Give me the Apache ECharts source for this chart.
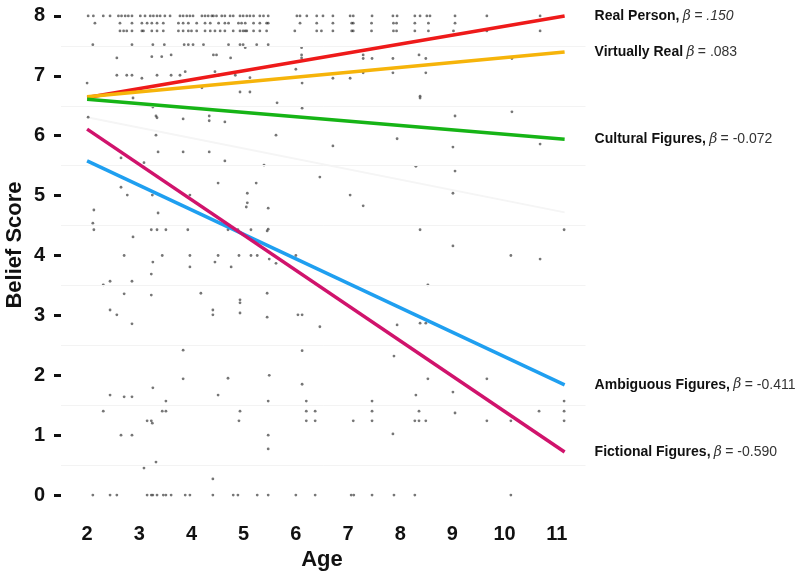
<!DOCTYPE html>
<html><head><meta charset="utf-8">
<script src="https://cdn.jsdelivr.net/npm/echarts@6/dist/echarts.min.js"></script>
<style>html,body{margin:0;padding:0;background:#fff}#c{width:800px;height:573px}</style>
</head><body><div id="c"></div>
<script>
// ---- data ----
const xTicks = [2,3,4,5,6,7,8,9,10,11];
const yTicks = [0,1,2,3,4,5,6,7,8];
const halfLines = [0.5,1.5,2.5,3.5,4.5,5.5,6.5,7.5];
const lineAges = [2, 11.15];
const realPerson = [6.64, 8.0];
const virtuallyReal = [6.65, 7.40];
const culturalFigures = [6.61, 5.94];
const ambiguousFigures = [5.58, 1.84];
const fictionalFigures = [6.11, 0.72];
const overallFaint = [6.31, 4.72];
const seriesLabels = [
  ['Real Person,', '.150', true],
  ['Virtually Real', '.083', false],
  ['Cultural Figures,', '-0.072', false],
  ['Ambiguous Figures,', '-0.411', false],
  ['Fictional Figures,', '-0.590', false]
];
const row8 = [2.02,2.12,2.31,2.44,2.60,2.66,2.73,2.79,2.86,3.02,3.11,3.21,3.27,3.34,3.40,3.49,3.59,3.78,3.84,3.91,3.97,4.03,4.20,4.26,4.32,4.39,4.42,4.48,4.58,4.64,4.74,4.80,4.93,4.99,5.06,5.12,5.19,5.31,5.38,5.47,6.02,6.08,6.21,6.40,6.52,6.71,7.04,7.10,7.46,7.86,7.94,8.28,8.38,8.51,8.57,9.05,9.66,10.68];
const row788 = [2.15,2.63,2.86,3.05,3.15,3.24,3.34,3.46,3.75,3.84,3.94,4.10,4.26,4.36,4.52,4.64,4.71,4.90,4.96,5.03,5.19,5.31,5.44,5.47,6.08,6.40,6.71,7.07,7.10,7.45,7.87,7.93,8.28,8.54,9.05];
const row775 = [2.63,2.70,2.76,2.86,3.05,3.08,3.24,3.34,3.46,3.75,3.84,3.94,4.00,4.10,4.26,4.36,4.45,4.55,4.64,4.80,4.93,4.99,5.03,5.06,5.19,5.31,5.44,5.98,6.40,6.49,6.71,7.07,7.10,7.45,7.87,7.93,8.28,8.54,9.02,9.66,10.68];
const row0 = [2.11,2.44,2.57,3.15,3.23,3.26,3.34,3.46,3.51,3.61,3.88,3.97,4.41,4.80,4.89,5.26,5.47,6.00,6.37,7.06,7.11,7.46,7.88,8.28,10.12];
const otherPoints = [
 [2.11,7.52],[2.86,7.52],[3.26,7.52],[3.48,7.52],[3.86,7.52],[3.94,7.52],[4.03,7.52],[4.23,7.52],[4.71,7.52],[4.93,7.52],[4.99,7.52],[5.03,7.47],[5.25,7.52],[5.47,7.52],[6.11,7.47],
 [2.57,7.30],[3.24,7.32],[3.43,7.32],[3.61,7.35],[4.42,7.35],[4.48,7.35],[4.75,7.30],[6.11,7.35],[6.11,7.30],
 [7.29,7.35],[7.29,7.29],[7.46,7.29],[7.86,7.29],[8.36,7.35],[8.49,7.29],[10.14,7.29],
 [6.00,7.11],[2.57,7.01],[2.76,7.01],[2.86,7.01],[3.05,6.96],[3.34,7.01],[3.61,7.01],[3.78,7.01],[3.88,7.07],[4.45,7.07],[4.52,7.01],[4.84,7.01],[5.12,6.97],
 [7.29,7.05],[7.86,7.05],[8.49,7.05],[6.71,6.96],[7.04,6.96],
 [2.00,6.88],[6.12,6.88],[4.20,6.80],[4.93,6.73],[5.12,6.73],[2.88,6.63],[5.64,6.55],[6.12,6.46],[8.38,6.66],[8.38,6.63],[10.14,6.40],[9.05,6.33],[3.26,6.48],
 [2.02,6.31],[3.32,6.33],[3.34,6.30],[3.84,6.28],[4.34,6.33],[4.34,6.25],[4.64,6.23],[3.32,6.01],[5.62,6.01],
 [3.36,5.73],[3.84,5.73],[4.34,5.73],[2.65,5.63],[3.09,5.55],[4.64,5.58],[5.39,5.51],
 [6.71,5.83],[7.94,5.95],[9.01,5.81],[10.68,5.86],[8.30,5.49],[9.05,5.41],[6.46,5.31],
 [4.51,5.21],[5.24,5.21],[2.65,5.14],[2.77,5.01],[3.25,5.01],[3.97,5.01],[5.07,5.04],[5.07,4.88],[5.05,4.81],[5.47,4.79],[7.04,5.01],[7.29,4.83],[9.01,5.04],
 [2.13,4.76],[2.11,4.54],[2.13,4.43],[3.36,4.71],
 [3.23,4.43],[3.34,4.43],[3.51,4.43],[3.93,4.43],[4.70,4.43],[4.89,4.43],[5.14,4.43],[5.45,4.41],[5.47,4.44],[8.38,4.43],[11.14,4.43],[2.88,4.31],
 [2.71,4.00],[3.44,4.00],[3.97,4.00],[4.51,4.00],[4.91,4.00],[5.14,4.00],[5.26,4.00],[6.00,4.00],[10.12,4.00],[9.01,4.16],[10.68,3.94],
 [3.26,3.89],[4.45,3.89],[5.49,3.94],[5.62,3.87],[3.97,3.81],[4.76,3.81],[3.23,3.69],
 [2.31,3.51],[2.44,3.57],[2.71,3.36],[2.86,3.57],[3.23,3.34],[4.18,3.37],[2.44,3.09],[2.57,3.01],[2.86,2.86],[4.41,3.09],[4.41,3.01],[4.93,3.26],[4.93,3.21],[4.93,3.04],[5.45,3.37],[5.45,2.97],[6.04,3.01],
 [8.53,3.51],[6.12,3.01],[6.46,2.81],[7.94,2.84],[8.38,2.87],[8.49,2.87],[6.12,2.41],[7.88,2.32],
 [3.84,2.42],[5.49,2.00],[4.70,1.95],[3.84,1.94],[8.53,1.94],[9.66,1.94],
 [3.26,1.79],[2.44,1.67],[2.71,1.64],[2.86,1.64],[3.51,1.57],[4.51,1.67],[5.47,1.57],[2.31,1.40],[3.44,1.40],[3.51,1.40],[4.93,1.40],
 [3.15,1.24],[3.23,1.24],[3.25,1.20],[4.91,1.24],[2.65,1.00],[2.86,1.00],[5.47,1.00],[5.47,0.77],[3.32,0.55],[3.09,0.45],[4.41,0.27],
 [6.12,1.85],[6.20,1.57],[6.20,1.40],[6.37,1.40],[6.20,1.24],[6.37,1.24],[7.10,1.24],[7.46,1.57],[7.46,1.40],[7.46,1.24],[7.86,1.02],
 [8.30,1.67],[8.36,1.40],[8.28,1.24],[8.36,1.24],[8.49,1.24],[9.01,1.72],[9.05,1.37],[9.66,1.24],[10.12,1.24],[10.66,1.40],
 [11.14,1.57],[11.14,1.40],[11.14,1.24]
];

// ---- build ----
const points = []
  .concat(row8.map(a => [a, 8.0]))
  .concat(row788.map(a => [a, 7.88]))
  .concat(row775.map(a => [a, 7.75]))
  .concat(row0.map(a => [a, 0]))
  .concat(otherPoints);

const FONT = '"Liberation Sans", Arial, Helvetica, sans-serif';
const lineDefs = [
  [realPerson, '#ee1a1a'],
  [virtuallyReal, '#f6b40a'],
  [culturalFigures, '#16b416'],
  [ambiguousFigures, '#1f9ff0'],
  [fictionalFigures, '#d0136c']
];

function mkLine(vals, color, idx) {
  const lab = seriesLabels[idx];
  return {
    type: 'line', symbol: 'none', z: 5,
    data: lineAges.map((a, i) => [a, vals[i]]),
    lineStyle: { color: color, width: 3.5 },
    endLabel: {
      show: true, distance: 30,
      formatter: '{n|' + lab[0] + '} {b|β} ' + (lab[2] ? '{i|= ' + lab[1] + '}' : '{r|= ' + lab[1] + '}'),
      rich: {
        n: { fontFamily: FONT, fontWeight: 'bold', fontSize: 14, color: '#111' },
        b: { fontFamily: 'DejaVu Serif, serif', fontStyle: 'italic', fontSize: 14, color: '#333' },
        i: { fontFamily: FONT, fontStyle: 'italic', fontSize: 14, color: '#333' },
        r: { fontFamily: FONT, fontSize: 14, color: '#333' }
      }
    }
  };
}

const chart = echarts.init(document.getElementById('c'), null, { renderer: 'canvas' });
chart.setOption({
  animation: false,
  backgroundColor: '#fff',
  grid: { left: 61, right: 214.5, top: 1, bottom: 54, containLabel: false },
  xAxis: {
    type: 'value', min: 1.5, max: 11.55,
    axisLine: { show: false }, axisTick: { show: false }, splitLine: { show: false },
    axisLabel: { customValues: xTicks, margin: 5, fontFamily: FONT, fontWeight: 'bold', fontSize: 20, color: '#111' }
  },
  yAxis: {
    type: 'value', min: -0.4, max: 8.25,
    axisLine: { show: false }, splitLine: { show: false },
    axisTick: { show: true, customValues: yTicks, length: 7, lineStyle: { color: '#111', width: 3 } },
    axisLabel: { customValues: yTicks, margin: 16, fontFamily: FONT, fontWeight: 'bold', fontSize: 20, color: '#111' }
  },
  graphic: [
    { type: 'text', x: 15, y: 245, rotation: Math.PI / 2,
      style: { text: 'Belief Score', fontFamily: FONT, fontWeight: 'bold', fontSize: 22, fill: '#111', align: 'center', verticalAlign: 'middle' } },
    { type: 'text', x: 322, y: 560,
      style: { text: 'Age', fontFamily: FONT, fontWeight: 'bold', fontSize: 22, fill: '#111', align: 'center', verticalAlign: 'middle' } }
  ],
  series: [
    { type: 'line', data: [], silent: true,
      markLine: { silent: true, symbol: 'none', label: { show: false },
        lineStyle: { color: '#f3f3f3', width: 1, type: 'solid' },
        data: halfLines.map(v => ({ yAxis: v })) } },
    { type: 'scatter', data: points, symbolSize: 2.8, z: 3,
      itemStyle: { color: 'rgba(40,40,40,0.8)' } },
    { type: 'line', symbol: 'none', z: 2, data: lineAges.map((a, i) => [a, overallFaint[i]]),
      lineStyle: { color: '#f5f5f5', width: 2 } }
  ].concat(lineDefs.map((d, i) => mkLine(d[0], d[1], i)))
});
</script>
</body></html>
